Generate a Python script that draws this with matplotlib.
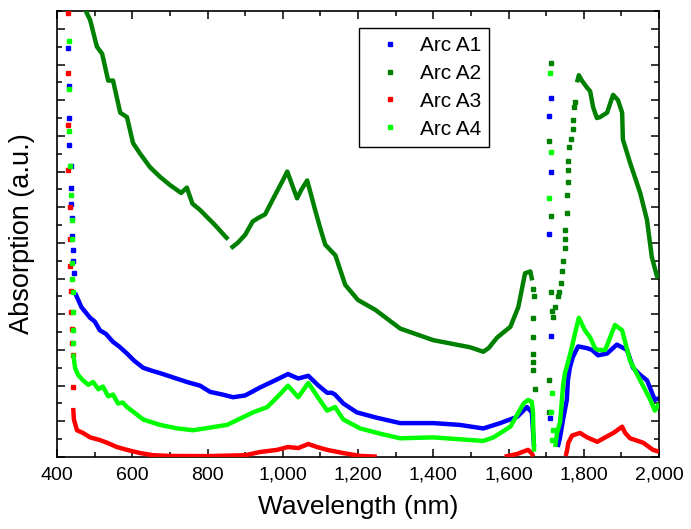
import matplotlib
matplotlib.use("Agg")
import matplotlib.pyplot as plt
from matplotlib.lines import Line2D
from matplotlib.ticker import MultipleLocator

plt.rcParams['font.family'] = ['Liberation Sans', 'DejaVu Sans']

# ---------------- data (arbitrary absorption units) -------------
xtick_values = [400, 600, 800, 1000, 1200, 1400, 1600, 1800, 2000]
xtick_labels = ["400", "600", "800", "1,000", "1,200", "1,400", "1,600", "1,800", "2,000"]
series_names = ["Arc A1", "Arc A2", "Arc A3", "Arc A4"]
series_colors = ["#0000ff", "#008000", "#ff0000", "#00ff00"]

# Arc A1 (blue)
a1_spike_x = [429, 432, 432, 432, 437, 437, 437, 440, 440, 443, 443, 445]
a1_spike_y = [22.9, 20.8, 19.0, 17.5, 16.3, 15.1, 14.2, 13.4, 12.4, 11.6, 11.0, 10.3]
a1_x = [448, 465, 488, 500, 514, 530, 549, 565, 586, 605, 629, 650, 674, 710, 746, 780,
        807, 840, 868, 900, 940, 980, 1014, 1041, 1068, 1095, 1118, 1130, 1139, 1161,
        1197, 1250, 1312, 1400, 1470, 1533, 1578, 1623, 1649, 1662, 1665, 1668]
a1_y = [9.2, 8.4, 7.8, 7.6, 7.1, 6.9, 6.45, 6.2, 5.8, 5.4, 5.0, 4.85, 4.7, 4.45, 4.2, 4.0,
        3.65, 3.5, 3.35, 3.45, 3.9, 4.3, 4.65, 4.4, 4.55, 4.0, 3.6, 3.6, 3.5, 3.0,
        2.5, 2.2, 1.9, 1.9, 1.8, 1.6, 1.9, 2.25, 2.8, 2.5, 1.5, 0.56]
a1_gap_x = [1708, 1713, 1710, 1713, 1708, 1713]
a1_gap_y = [12.5, 6.8, 2.2, 20.1, 19.1, 16.0]
a1_r_x = [1731, 1737, 1745, 1755, 1758, 1763, 1771, 1785, 1809, 1822, 1838, 1862, 1888,
          1915, 1931, 1950, 1968, 1989, 2000]
a1_r_y = [0.56, 1.1, 2.1, 3.2, 4.3, 5.0, 5.6, 6.2, 6.1, 6.0, 5.7, 5.8, 6.3,
          6.0, 5.0, 4.6, 4.3, 3.2, 3.3]

# Arc A2 (dark green)
a2_x = [460, 472, 488, 506, 520, 536, 549, 568, 586, 602, 621, 647, 674, 700, 730, 745,
        760, 780, 820, 850, 855]
a2_y = [27.0, 25.2, 24.5, 23.0, 22.6, 21.1, 21.1, 19.3, 19.05, 17.6, 17.0, 16.25, 15.7,
        15.25, 14.8, 15.1, 14.2, 13.85, 13.0, 12.3, 12.2]
a2_b_x = [862, 880, 900, 920, 935, 953, 980, 1000, 1012, 1025, 1038, 1050, 1065, 1086,
          1100, 1113, 1140, 1166, 1200, 1246, 1312, 1400, 1498, 1533, 1547, 1570, 1605,
          1626, 1644, 1658, 1663]
a2_b_y = [11.7, 12.0, 12.45, 13.2, 13.4, 13.6, 14.7, 15.5, 16.0, 15.25, 14.5, 15.0, 15.5,
          13.85, 12.8, 11.9, 11.3, 9.65, 8.8, 8.25, 7.2, 6.55, 6.15, 5.9, 6.1, 6.7, 7.3,
          8.4, 10.3, 10.4, 9.9]
a2_gap_x = [1665, 1668, 1665, 1665, 1665, 1665, 1670, 1666,
            1713, 1708, 1713, 1708, 1708, 1713, 1716, 1718, 1724, 1732, 1734, 1740, 1742,
            1745, 1750, 1750, 1750, 1755, 1755, 1758, 1758, 1758, 1761, 1766, 1771, 1771,
            1774, 1777]
a2_gap_y = [9.4, 9.0, 7.8, 6.7, 5.8, 5.3, 3.8, 4.9,
            22.1, 17.7, 13.5, 4.3, 2.5, 9.25, 8.2, 7.85, 8.4, 9.0, 9.25, 9.75, 10.4,
            11.0, 11.7, 12.2, 12.7, 13.7, 14.7, 15.4, 16.1, 16.6, 17.4, 17.8, 18.4, 18.9,
            19.6, 19.9]
a2_r_x = [1782, 1787, 1795, 1809, 1817, 1825, 1835, 1843, 1862, 1878, 1891, 1902, 1904,
          1923, 1950, 1968, 1981, 1995, 2000]
a2_r_y = [21.0, 21.4, 21.1, 20.7, 20.5, 19.6, 19.0, 19.05, 19.3, 20.3, 20.0, 19.3, 17.8,
          16.5, 14.8, 13.3, 11.2, 10.1, 10.3]

# Arc A3 (red)
a3_spike_x = [429, 429, 429, 429, 435, 435, 435, 437, 437, 440, 440, 443, 443]
a3_spike_y = [24.9, 21.5, 18.6, 16.1, 14.0, 12.2, 10.7, 9.3, 8.1, 7.2, 6.4, 5.7, 3.9]
a3_x = [443, 445, 453, 469, 488, 514, 533, 559, 586, 621, 655, 700, 800, 900, 940, 985,
        1014, 1041, 1068, 1091, 1118, 1161, 1206, 1250]
a3_y = [2.75, 2.1, 1.5, 1.35, 1.1, 0.95, 0.8, 0.56, 0.4, 0.22, 0.1, 0.06, 0.05, 0.1,
        0.28, 0.4, 0.56, 0.5, 0.73, 0.56, 0.4, 0.22, 0.06, 0.02]
a3_m_x = [1590, 1623, 1639, 1652, 1662, 1666]
a3_m_y = [0.02, 0.17, 0.3, 0.4, 0.2, 0.03]
a3_r_x = [1752, 1756, 1759, 1769, 1790, 1809, 1836, 1857, 1879, 1902, 1910, 1923, 1958,
          1984, 2000]
a3_r_y = [0.05, 0.4, 0.8, 1.2, 1.35, 1.1, 0.85, 1.1, 1.35, 1.7, 1.35, 1.05, 0.8,
          0.4, 0.3]

# Arc A4 (lime)
a4_spike_x = [432, 432, 432, 435, 437, 440, 440, 440, 440, 443, 443, 443, 443]
a4_spike_y = [23.3, 20.6, 18.3, 16.3, 14.7, 13.3, 12.2, 10.9, 10.0, 9.25, 8.1, 7.1, 6.4]
a4_x = [443, 448, 456, 469, 483, 496, 510, 522, 536, 549, 562, 575, 586, 605, 629, 674,
        720, 762, 852, 921, 959, 985, 1014, 1041, 1068, 1095, 1118, 1139, 1161, 1206,
        1260, 1312, 1400, 1533, 1560, 1605, 1640, 1652, 1662, 1665, 1666, 1668]
a4_y = [5.8, 5.0, 4.6, 4.3, 4.05, 4.2, 3.8, 3.95, 3.4, 3.5, 3.0, 3.05, 2.8, 2.5, 2.1, 1.8,
        1.6, 1.5, 1.8, 2.5, 2.8, 3.35, 4.0, 3.35, 4.15, 3.3, 2.6, 2.8, 2.1, 1.6,
        1.3, 1.05, 1.1, 0.9, 1.1, 1.7, 3.0, 3.2, 3.1, 2.5, 1.5, 0.3]
a4_gap_x = [1710, 1713, 1708, 1716, 1713, 1718, 1716]
a4_gap_y = [21.5, 17.1, 14.5, 3.6, 2.5, 1.5, 0.95]
a4_r_x = [1724, 1729, 1737, 1742, 1745, 1750, 1758, 1769, 1777, 1787, 1803, 1817, 1830,
          1838, 1857, 1883, 1902, 1923, 1950, 1977, 1989, 2000]
a4_r_y = [0.56, 1.35, 1.95, 3.2, 4.0, 4.7, 5.3, 6.2, 6.95, 7.8, 7.1, 6.7, 6.1,
          6.0, 6.0, 7.4, 7.1, 5.4, 4.3, 3.2, 2.6, 3.0]

# ---------------- figure -------------------------------------------------------------
fig = plt.figure(figsize=(6.91, 5.29), dpi=100)
ax = fig.add_axes([57 / 691, 1 - 457 / 529, 602 / 691, 446 / 529])

lw = 3.2
ms = 2.3
curves = {
    0: [(a1_x, a1_y), (a1_r_x, a1_r_y)],
    1: [(a2_x, a2_y), (a2_b_x, a2_b_y), (a2_r_x, a2_r_y)],
    2: [(a3_x, a3_y), (a3_m_x, a3_m_y), (a3_r_x, a3_r_y)],
    3: [(a4_x, a4_y), (a4_r_x, a4_r_y)],
}
dots = {
    0: [(a1_spike_x, a1_spike_y), (a1_gap_x, a1_gap_y)],
    1: [(a2_gap_x, a2_gap_y)],
    2: [(a3_spike_x, a3_spike_y)],
    3: [(a4_spike_x, a4_spike_y), (a4_gap_x, a4_gap_y)],
}
for i in [1, 0, 2, 3]:
    c = series_colors[i]
    for xs, ys in curves[i]:
        ax.plot(xs, ys, color=c, lw=lw, solid_capstyle='butt', zorder=2 + i)
    for xs, ys in dots[i]:
        ax.plot(xs, ys, ls='none', marker='s', ms=ms, color=c, mec=c, zorder=2 + i)

ax.set_xlim(400, 2000)
ax.set_ylim(0, 25)
ax.set_xticks(xtick_values)
ax.set_xticklabels(xtick_labels)
ax.xaxis.set_minor_locator(MultipleLocator(100))
ax.yaxis.set_major_locator(MultipleLocator(2))
ax.yaxis.set_minor_locator(MultipleLocator(1))
ax.set_yticklabels([])
ax.tick_params(which='both', direction='in', top=True, right=True, width=1.1, color='black')
ax.tick_params(which='major', length=6)
ax.tick_params(which='minor', length=3.5)
ax.tick_params(axis='x', labelsize=14, pad=7)
for s in ax.spines.values():
    s.set_linewidth(1.2)
    s.set_color('black')

ax.set_xlabel("Wavelength (nm)", fontsize=19, labelpad=8)
ax.set_ylabel("Absorption (a.u.)", fontsize=19.5, labelpad=12)

handles = [Line2D([], [], ls='none', marker='s', ms=2.5, color=c, mec=c) for c in series_colors]
leg = ax.legend(handles, series_names, loc='upper left', bbox_to_anchor=(0.502, 0.962),
                borderaxespad=0, frameon=True, fancybox=False, framealpha=1,
                edgecolor='black', fontsize=15, handlelength=2.2, handletextpad=0.3,
                borderpad=0.4, labelspacing=0.42)
leg.get_frame().set_linewidth(1.0)

fig.savefig("out.png", dpi=100)
